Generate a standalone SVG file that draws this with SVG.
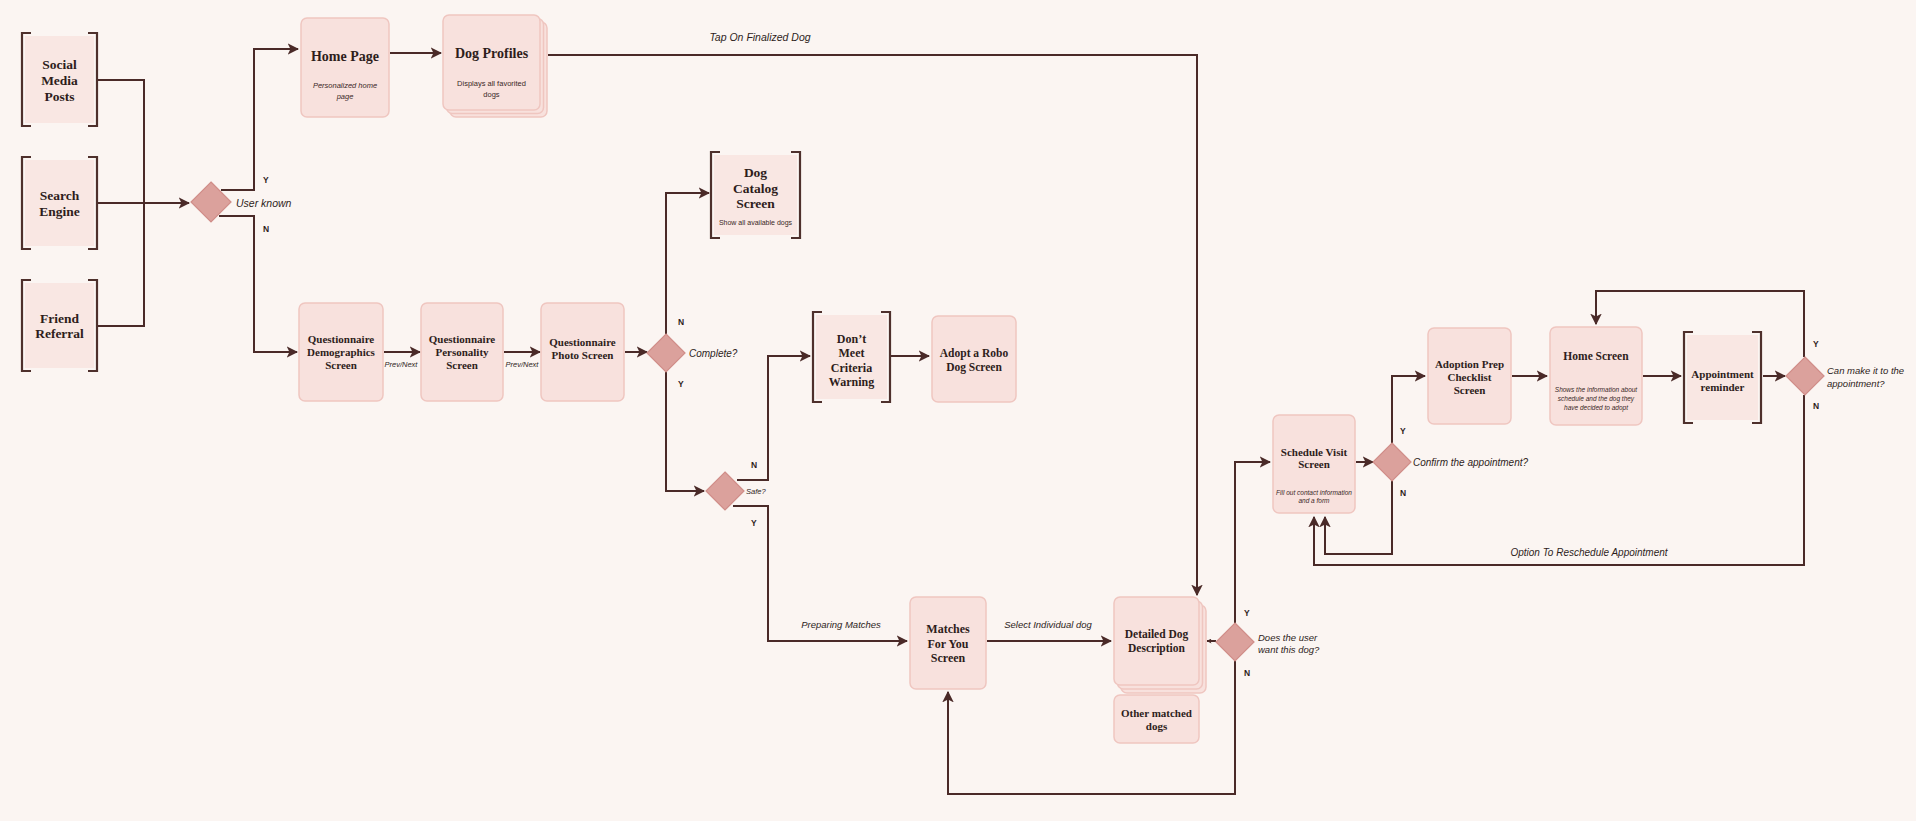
<svg xmlns="http://www.w3.org/2000/svg" width="1916" height="821" viewBox="0 0 1916 821">
<defs>
<marker id="ah" viewBox="0 0 10 10" refX="9" refY="5" markerWidth="5.8" markerHeight="5.8" orient="auto" markerUnits="strokeWidth">
<path d="M0,0 L10,5 L0,10 L2.5,5 z" fill="#4a2a28"/>
</marker>
<marker id="ahs" viewBox="0 0 10 10" refX="9" refY="5" markerWidth="2.5" markerHeight="2.5" orient="auto" markerUnits="strokeWidth">
<path d="M0,0 L10,5 L0,10 L2.5,5 z" fill="#4a2a28"/>
</marker>
<style>
.card{fill:#f8e1dd;stroke:#efc6c0;stroke-width:1.5}
.bfill{fill:#f9e7e3}
.br{fill:none;stroke:#4e302c;stroke-width:2.2}
.dia{fill:#dba19c;stroke:#d08e89;stroke-width:1.2}
.ln{fill:none;stroke:#4a2a28;stroke-width:2}
.arr{marker-end:url(#ah)}
.t{font-family:"Liberation Serif","DejaVu Serif",serif;font-weight:bold;fill:#2e1d1b;text-anchor:middle;dominant-baseline:central}
.s{font-family:"Liberation Sans","DejaVu Sans",sans-serif;fill:#3a2826;text-anchor:middle;dominant-baseline:central}
.l{font-family:"Liberation Sans","DejaVu Sans",sans-serif;font-style:italic;fill:#2e1d1b;dominant-baseline:central}
.yn{font-family:"Liberation Sans","DejaVu Sans",sans-serif;font-weight:bold;font-size:8.5px;fill:#2e1d1b;dominant-baseline:central}
</style>
</defs>
<rect width="1916" height="821" fill="#fbf5f2"/>

<g id="connectors">
<path class="ln" d="M97,80 H144 V326 H97"/>
<path class="ln arr" d="M97,203 H189"/>
<path class="ln arr" d="M221,190 H254 V49 H298"/>
<path class="ln arr" d="M219,216 H254 V352 H297"/>
<path class="ln arr" d="M390,53 H441"/>
<path class="ln arr" d="M548,55 H1197 V595"/>
<path class="ln arr" d="M384,352 H420"/>
<path class="ln arr" d="M504,352 H540"/>
<path class="ln arr" d="M625,352 H647"/>
<path class="ln arr" d="M666,334 V193 H709"/>
<path class="ln arr" d="M666,372 V491 H704"/>
<path class="ln arr" d="M737,480 H768 V356 H810"/>
<path class="ln arr" d="M733,506 H768 V641 H907"/>
<path class="ln arr" d="M891,356 H929"/>
<path class="ln arr" d="M987,641 H1111"/>
<path class="ln" d="M1216,641 H1207" style="marker-end:url(#ahs)"/>
<path class="ln arr" d="M1235,661 V794 H948 V692"/>
<path class="ln arr" d="M1235,623 V462 H1270"/>
<path class="ln arr" d="M1356,462 H1373"/>
<path class="ln arr" d="M1392,443 V376 H1425"/>
<path class="ln arr" d="M1392,481 V554 H1325 V517"/>
<path class="ln arr" d="M1512,376 H1547"/>
<path class="ln arr" d="M1643,376 H1681"/>
<path class="ln arr" d="M1763,376 H1785"/>
<path class="ln arr" d="M1804,357 V291 H1596 V324"/>
<path class="ln arr" d="M1804,395 V565 H1314 V517"/>
<text class="l" x="760" y="37" font-size="10.5" text-anchor="middle">Tap On Finalized Dog</text>
<text class="l" x="401" y="364" font-size="7.5" text-anchor="middle">Prev/Next</text>
<text class="l" x="522" y="364" font-size="7.5" text-anchor="middle">Prev/Next</text>
<text class="l" x="841" y="624" font-size="9.5" text-anchor="middle">Preparing Matches</text>
<text class="l" x="1048" y="624" font-size="9.5" text-anchor="middle">Select Individual dog</text>
<text class="l" x="1589" y="552" font-size="10" text-anchor="middle">Option To Reschedule Appointment</text>
<text class="yn" x="263" y="180">Y</text>
<text class="yn" x="263" y="229">N</text>
<text class="yn" x="678" y="322">N</text>
<text class="yn" x="678" y="384">Y</text>
<text class="yn" x="751" y="465">N</text>
<text class="yn" x="751" y="523">Y</text>
<text class="yn" x="1244" y="613">Y</text>
<text class="yn" x="1244" y="673">N</text>
<text class="yn" x="1400" y="431">Y</text>
<text class="yn" x="1400" y="493">N</text>
<text class="yn" x="1813" y="344">Y</text>
<text class="yn" x="1813" y="406">N</text>
</g>

<g id="social-media-posts">
<rect class="bfill" x="25" y="36" width="69" height="87"/>
<path class="br" d="M31,33 H22 V126 H31 M88,33 H97 V126 H88"/>
<text class="t" x="59.5" y="64" font-size="13.5">Social</text>
<text class="t" x="59.5" y="80" font-size="13.5">Media</text>
<text class="t" x="59.5" y="96" font-size="13.5">Posts</text>
</g>
<g id="search-engine">
<rect class="bfill" x="25" y="160" width="69" height="86"/>
<path class="br" d="M31,157 H22 V249 H31 M88,157 H97 V249 H88"/>
<text class="t" x="59.5" y="195" font-size="13.5">Search</text>
<text class="t" x="59.5" y="211" font-size="13.5">Engine</text>
</g>
<g id="friend-referral">
<rect class="bfill" x="25" y="283" width="69" height="85"/>
<path class="br" d="M31,280 H22 V371 H31 M88,280 H97 V371 H88"/>
<text class="t" x="59.5" y="318" font-size="13.5">Friend</text>
<text class="t" x="59.5" y="333" font-size="13.5">Referral</text>
</g>
<g id="user-known">
<polygon class="dia" points="211,182 231,202 211,222 191,202"/>
<text class="l" x="236" y="203" font-size="10.5">User known</text>
</g>
<g id="home-page">
<rect class="card" x="301" y="18" width="88" height="99" rx="6"/>
<text class="t" x="345" y="56" font-size="14">Home Page</text>
<text class="s" x="345" y="85" font-size="7.5" font-style="italic">Personalized home</text>
<text class="s" x="345" y="96" font-size="7.5" font-style="italic">page</text>
</g>
<g id="dog-profiles">
<rect class="card" x="450" y="22" width="97" height="95" rx="6"/>
<rect class="card" x="446.5" y="18.5" width="97" height="95" rx="6"/>
<rect class="card" x="443" y="15" width="97" height="95" rx="6"/>
<text class="t" x="491.5" y="53" font-size="14">Dog Profiles</text>
<text class="s" x="491.5" y="83" font-size="7.5">Displays all favorited</text>
<text class="s" x="491.5" y="94" font-size="7.5">dogs</text>
</g>
<g id="dog-catalog-screen">
<rect class="bfill" x="714" y="155" width="83" height="80"/>
<path class="br" d="M720,152 H711 V238 H720 M791,152 H800 V238 H791"/>
<text class="t" x="755.5" y="172" font-size="13.5">Dog</text>
<text class="t" x="755.5" y="188" font-size="13.5">Catalog</text>
<text class="t" x="755.5" y="203" font-size="13.5">Screen</text>
<text class="s" x="755.5" y="222" font-size="7">Show all available dogs</text>
</g>
<g id="questionnaire-demographics">
<rect class="card" x="299" y="303" width="84" height="98" rx="6"/>
<text class="t" x="341" y="339" font-size="11">Questionnaire</text>
<text class="t" x="341" y="352" font-size="11">Demographics</text>
<text class="t" x="341" y="365" font-size="11">Screen</text>
</g>
<g id="questionnaire-personality">
<rect class="card" x="421" y="303" width="82" height="98" rx="6"/>
<text class="t" x="462" y="339" font-size="11">Questionnaire</text>
<text class="t" x="462" y="352" font-size="11">Personality</text>
<text class="t" x="462" y="365" font-size="11">Screen</text>
</g>
<g id="questionnaire-photo">
<rect class="card" x="541" y="303" width="83" height="98" rx="6"/>
<text class="t" x="582.5" y="342" font-size="11">Questionnaire</text>
<text class="t" x="582.5" y="355" font-size="11">Photo Screen</text>
</g>
<g id="complete">
<polygon class="dia" points="666,334 685,353 666,372 647,353"/>
<text class="l" x="689" y="353" font-size="10">Complete?</text>
</g>
<g id="safe">
<polygon class="dia" points="725,472 744,491 725,510 706,491"/>
<text class="l" x="746" y="491" font-size="7.5">Safe?</text>
</g>
<g id="dont-meet-criteria">
<rect class="bfill" x="816" y="315" width="71" height="84"/>
<path class="br" d="M822,312 H813 V402 H822 M881,312 H890 V402 H881"/>
<text class="t" x="851.5" y="339" font-size="12">Don’t</text>
<text class="t" x="851.5" y="353" font-size="12">Meet</text>
<text class="t" x="851.5" y="368" font-size="12">Criteria</text>
<text class="t" x="851.5" y="382" font-size="12">Warning</text>
</g>
<g id="adopt-robo-dog">
<rect class="card" x="932" y="316" width="84" height="86" rx="6"/>
<text class="t" x="974" y="353" font-size="11.5">Adopt a Robo</text>
<text class="t" x="974" y="367" font-size="11.5">Dog Screen</text>
</g>
<g id="matches-for-you">
<rect class="card" x="910" y="597" width="76" height="92" rx="6"/>
<text class="t" x="948" y="629" font-size="12">Matches</text>
<text class="t" x="948" y="644" font-size="12">For You</text>
<text class="t" x="948" y="658" font-size="12">Screen</text>
</g>
<g id="detailed-dog-description">
<rect class="card" x="1121" y="605" width="85" height="88" rx="6"/>
<rect class="card" x="1117.5" y="601" width="85" height="88" rx="6"/>
<rect class="card" x="1114" y="597" width="85" height="88" rx="6"/>
<text class="t" x="1156.5" y="634" font-size="11.5">Detailed Dog</text>
<text class="t" x="1156.5" y="648" font-size="11.5">Description</text>
</g>
<g id="other-matched-dogs">
<rect class="card" x="1114" y="695" width="85" height="48" rx="6"/>
<text class="t" x="1156.5" y="713" font-size="11">Other matched</text>
<text class="t" x="1156.5" y="726" font-size="11">dogs</text>
</g>
<g id="wants-dog">
<polygon class="dia" points="1235,623 1254,642 1235,661 1216,642"/>
<text class="l" x="1258" y="637" font-size="9.5">Does the user</text>
<text class="l" x="1258" y="649" font-size="9.5">want this dog?</text>
</g>
<g id="schedule-visit">
<rect class="card" x="1273" y="415" width="82" height="98" rx="6"/>
<text class="t" x="1314" y="452" font-size="11">Schedule Visit</text>
<text class="t" x="1314" y="464" font-size="11">Screen</text>
<text class="s" x="1314" y="492" font-size="6.5" font-style="italic">Fill out contact information</text>
<text class="s" x="1314" y="500" font-size="6.5" font-style="italic">and a form</text>
</g>
<g id="confirm-appointment">
<polygon class="dia" points="1392,443 1411,462 1392,481 1373,462"/>
<text class="l" x="1413" y="462" font-size="10">Confirm the appointment?</text>
</g>
<g id="adoption-prep-checklist">
<rect class="card" x="1428" y="328" width="83" height="96" rx="6"/>
<text class="t" x="1469.5" y="364" font-size="11">Adoption Prep</text>
<text class="t" x="1469.5" y="377" font-size="11">Checklist</text>
<text class="t" x="1469.5" y="390" font-size="11">Screen</text>
</g>
<g id="home-screen">
<rect class="card" x="1550" y="327" width="92" height="98" rx="6"/>
<text class="t" x="1596" y="356" font-size="11.5">Home Screen</text>
<text class="s" x="1596" y="389" font-size="6.5" font-style="italic">Shows the information about</text>
<text class="s" x="1596" y="398" font-size="6.5" font-style="italic">schedule and the dog they</text>
<text class="s" x="1596" y="407" font-size="6.5" font-style="italic">have decided to adopt</text>
</g>
<g id="appointment-reminder">
<rect class="bfill" x="1687" y="335" width="71" height="85"/>
<path class="br" d="M1693,332 H1684 V423 H1693 M1752,332 H1761 V423 H1752"/>
<text class="t" x="1722.5" y="374" font-size="11">Appointment</text>
<text class="t" x="1722.5" y="387" font-size="11">reminder</text>
</g>
<g id="can-make-it">
<polygon class="dia" points="1805,357 1824,376 1805,395 1786,376"/>
<text class="l" x="1827" y="370" font-size="9.5">Can make it to the</text>
<text class="l" x="1827" y="383" font-size="9.5">appointment?</text>
</g>
</svg>
